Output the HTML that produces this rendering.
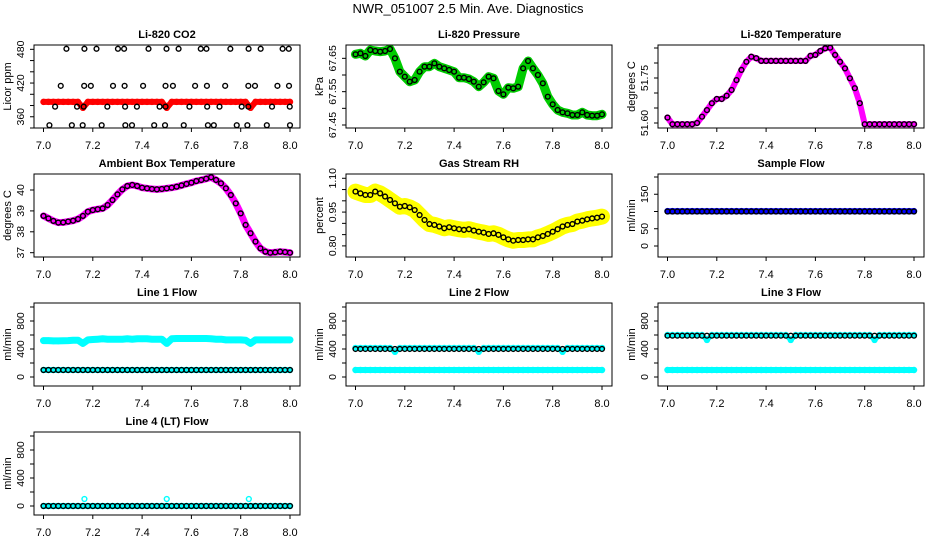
<!DOCTYPE html>
<html><head><meta charset="utf-8"><title>NWR_051007 Diagnostics</title>
<style>
html,body{margin:0;padding:0;background:#fff;}
svg{display:block;font-family:"Liberation Sans",sans-serif;}
</style></head>
<body>
<svg id="chart" width="936" height="540" viewBox="0 0 936 540">
<rect x="0" y="0" width="936" height="540" fill="#fff"/>
<text x="468" y="13" text-anchor="middle" font-size="13">NWR_051007  2.5 Min. Ave. Diagnostics</text>
</svg>
<script>
// ---------- data ----------
const xTicks = [7.0, 7.2, 7.4, 7.6, 7.8, 8.0];
const xTickLabels = ["7.0", "7.2", "7.4", "7.6", "7.8", "8.0"];

const co2BlackT = [7.093,7.166,7.215,7.302,7.327,7.426,7.499,7.548,7.638,7.661,7.758,7.832,7.881,7.970,7.995,
  7.070,7.165,7.192,7.282,7.329,7.404,7.495,7.525,7.615,7.663,7.737,7.831,7.858,7.949,7.996,
  7.047,7.136,7.163,7.259,7.331,7.379,7.471,7.495,7.592,7.664,7.714,7.804,7.831,7.927,7.999,
  7.024,7.115,7.159,7.236,7.332,7.359,7.449,7.493,7.569,7.667,7.691,7.784,7.827,7.906,8.000];
const co2BlackV = [481,481,481,481,481,481,481,481,481,481,481,481,481,481,481,
  415,415,415,415,415,415,415,415,415,415,415,415,415,415,415,
  378,378,378,378,378,378,378,378,378,378,378,378,378,378,378,
  345,345,345,345,345,345,345,345,345,345,345,345,345,345,345];
const co2Red = [386.5,386.5,386.5,386.5,386.5,386.5,386.5,386.5,376,386.5,
  386.5,386.5,386.5,386.5,386.5,386.5,386.5,386.5,386.5,386.5,
  386.5,386.5,386.5,386.5,386.5,376,386.5,386.5,386.5,386.5,
  386.5,386.5,386.5,386.5,386.5,386.5,386.5,386.5,386.5,386.5,
  386.5,386.5,376,386.5,386.5,386.5,386.5,386.5,386.5,386.5,386.5];

const pressure = [67.662,67.665,67.657,67.675,67.672,67.670,67.672,67.678,67.650,67.610,
  67.595,67.580,67.585,67.610,67.625,67.625,67.635,67.625,67.620,67.615,
  67.610,67.592,67.592,67.588,67.580,67.565,67.578,67.595,67.590,67.552,
  67.542,67.562,67.560,67.565,67.620,67.642,67.620,67.600,67.575,67.535,
  67.512,67.495,67.488,67.485,67.480,67.480,67.488,67.480,67.478,67.478,67.482];

const licorTemp = [51.618,51.596,51.596,51.596,51.596,51.596,51.600,51.621,51.643,51.666,
  51.680,51.680,51.691,51.710,51.743,51.777,51.804,51.821,51.816,51.807,
  51.807,51.807,51.807,51.807,51.807,51.807,51.807,51.807,51.807,51.824,
  51.827,51.840,51.849,51.851,51.827,51.804,51.782,51.749,51.716,51.666,
  51.596,51.596,51.596,51.596,51.596,51.596,51.596,51.596,51.596,51.596,51.596];

const ambientTemp = [38.76,38.64,38.52,38.44,38.45,38.49,38.53,38.61,38.76,38.96,
  39.04,39.08,39.12,39.28,39.52,39.79,40.03,40.19,40.24,40.19,
  40.11,40.08,40.05,40.03,40.05,40.08,40.11,40.16,40.22,40.29,
  40.35,40.43,40.48,40.54,40.61,40.48,40.32,40.08,39.76,39.36,
  38.88,38.33,37.93,37.53,37.21,37.05,37.00,37.02,37.05,37.03,37.00];

const gasRH = [1.041,1.033,1.026,1.026,1.041,1.033,1.019,1.004,0.989,0.974,
  0.977,0.971,0.959,0.937,0.915,0.897,0.893,0.886,0.878,0.883,
  0.878,0.874,0.871,0.874,0.868,0.863,0.859,0.853,0.856,0.849,
  0.838,0.829,0.823,0.826,0.826,0.829,0.829,0.838,0.844,0.853,
  0.863,0.874,0.886,0.893,0.897,0.908,0.912,0.918,0.922,0.925,0.930];

const sampleBlue = [101,101,101,101,101,101,101,101,101,101,101,101,101,101,101,101,101,101,101,101,101,101,101,101,101,101,101,101,101,101,101,101,101,101,101,101,101,101,101,101,101,101,101,101,101,101,101,101,101,101,101];
const sampleBlack = [100,100,100,100,100,100,100,100,100,100,100,100,100,100,100,100,100,100,100,100,100,100,100,100,100,100,100,100,100,100,100,100,100,100,100,100,100,100,100,100,100,100,100,100,100,100,100,100,100,100,100];

const line1High = [520,520,515,515,518,520,525,525,480,530,
  535,540,545,540,540,540,540,545,540,545,
  545,545,540,540,540,480,545,550,550,550,
  550,550,550,550,545,540,540,530,530,530,
  530,525,480,530,530,530,530,530,530,530,530];
const line1Low = [100,100,100,100,100,100,100,100,100,100,100,100,100,100,100,100,100,100,100,100,100,100,100,100,100,100,100,100,100,100,100,100,100,100,100,100,100,100,100,100,100,100,100,100,100,100,100,100,100,100,100];
const line1Black = [100,100,100,100,100,100,100,100,100,100,100,100,100,100,100,100,100,100,100,100,100,100,100,100,100,100,100,100,100,100,100,100,100,100,100,100,100,100,100,100,100,100,100,100,100,100,100,100,100,100,100];

const line2High = [415,415,415,415,415,415,415,415,360,415,
  415,415,415,415,415,415,415,415,415,415,
  415,415,415,415,415,360,415,415,415,415,
  415,415,415,415,415,415,415,415,415,415,
  415,415,360,415,415,415,415,415,415,415,415];
const line2Low = [100,100,100,100,100,100,100,100,100,100,100,100,100,100,100,100,100,100,100,100,100,100,100,100,100,100,100,100,100,100,100,100,100,100,100,100,100,100,100,100,100,100,100,100,100,100,100,100,100,100,100];
const line2Black = [400,400,400,400,400,400,400,400,400,400,400,400,400,400,400,400,400,400,400,400,400,400,400,400,400,400,400,400,400,400,400,400,400,400,400,400,400,400,400,400,400,400,400,400,400,400,400,400,400,400,400];

const line3High = [600,600,600,600,600,600,600,600,530,600,
  600,600,600,600,600,600,600,600,600,600,
  600,600,600,600,600,530,600,600,600,600,
  600,600,600,600,600,600,600,600,600,600,
  600,600,530,600,600,600,600,600,600,600,600];
const line3Low = [100,100,100,100,100,100,100,100,100,100,100,100,100,100,100,100,100,100,100,100,100,100,100,100,100,100,100,100,100,100,100,100,100,100,100,100,100,100,100,100,100,100,100,100,100,100,100,100,100,100,100];
const line3Black = [590,590,590,590,590,590,590,590,590,590,590,590,590,590,590,590,590,590,590,590,590,590,590,590,590,590,590,590,590,590,590,590,590,590,590,590,590,590,590,590,590,590,590,590,590,590,590,590,590,590,590];

const line4Cyan = [0,0,0,0,0,0,0,0,0,0,0,0,0,0,0,0,0,0,0,0,0,0,0,0,0,0,0,0,0,0,0,0,0,0,0,0,0,0,0,0,0,0,0,0,0,0,0,0,0,0,0];
const line4SpikeT = [7.166, 7.5, 7.833];
const line4SpikeV = [100, 100, 100];
const line4Black = [0,0,0,0,0,0,0,0,0,0,0,0,0,0,0,0,0,0,0,0,0,0,0,0,0,0,0,0,0,0,0,0,0,0,0,0,0,0,0,0,0,0,0,0,0,0,0,0,0,0,0];

const tGrid = [];
for (let i = 0; i <= 50; i++) tGrid.push(7 + i * 0.02);

// ---------- drawing ----------
const svg = document.getElementById('chart');
const NS = 'http://www.w3.org/2000/svg';
function mk(tag, attrs, parent) {
  const e = document.createElementNS(NS, tag);
  for (const k in attrs) e.setAttribute(k, attrs[k]);
  (parent || svg).appendChild(e);
  return e;
}

function panel(col, row, title, ylab, ymin, ymax, ticks, labels, name) {
  const bx = 34 + col * 312, by = 45 + row * 129, bw = 266, bh = 83;
  const g = mk('g', {});
  
  
  const X = t => bx + 9.5 + (t - 7) * 246.5;
  const Y = v => by + bh - (v - ymin) / (ymax - ymin) * bh;
  const tt = mk('text', {x: bx + bw / 2, y: by - 7, 'text-anchor': 'middle', 'font-size': 11, 'font-weight': 'bold'}, g);
  tt.textContent = title;
  
  
  const yl = mk('text', {x: 0, y: 0, transform: `translate(${bx - 23},${by + bh / 2}) rotate(-90)`, 'text-anchor': 'middle', 'font-size': 11}, g);
  yl.textContent = ylab;
  
  
  ticks.forEach(v => {
    const y = Y(v);
    const tk = mk('line', {x1: bx - 4, x2: bx, y1: y, y2: y, stroke: '#000', 'stroke-width': 1}, g);
    
    
  });
  labels.forEach(l => {
    const y = Y(l[0]);
    const lt = mk('text', {x: 0, y: 0, transform: `translate(${bx - 10},${y}) rotate(-90)`, 'text-anchor': 'middle', 'font-size': 10.5}, g);
    lt.textContent = l[1];
    
    
  });
  xTicks.forEach((t, i) => {
    const x = X(t);
    const tk = mk('line', {x1: x, x2: x, y1: by + bh, y2: by + bh + 4, stroke: '#000', 'stroke-width': 1}, g);
    
    
    const lt = mk('text', {x: x, y: by + bh + 21, 'text-anchor': 'middle', 'font-size': 11}, g);
    lt.textContent = xTickLabels[i];
    
    
  });
  const plot = mk('g', {}, g);
  
  
  const frame = mk('rect', {x: bx, y: by, width: bw, height: bh, fill: 'none', stroke: '#000', 'stroke-width': 1}, g);
  
  
  return {X, Y, plot, name};
}

function band(p, ts, vs, color, w, label) {
  const pts = ts.map((t, i) => p.X(t).toFixed(1) + ',' + p.Y(vs[i]).toFixed(1)).join(' ');
  const pl = mk('polyline', {points: pts, fill: 'none', stroke: color, 'stroke-width': w, 'stroke-linejoin': 'round', 'stroke-linecap': 'round'}, p.plot);
  
  
  ts.forEach((t, i) => {
    const c = mk('circle', {cx: p.X(t), cy: p.Y(vs[i]), r: 2.6, fill: 'none', stroke: color, 'stroke-width': 1.3}, p.plot);
    
    
  });
}
function dots(p, ts, vs, color, label) {
  ts.forEach((t, i) => {
    const c = mk('circle', {cx: p.X(t), cy: p.Y(vs[i]), r: 2.4, fill: 'none', stroke: color, 'stroke-width': 1.4}, p.plot);
    
    
  });
}

const p1 = panel(0, 0, 'Li-820 CO2', 'Licor ppm', 340, 487.7,
  [340,360,380,400,420,440,460,480], [[360,'360'],[420,'420'],[480,'480']], 'co2');
band(p1, tGrid, co2Red, '#ff0000', 6, 'red');
dots(p1, co2BlackT, co2BlackV, '#000', 'black');

const p2 = panel(1, 0, 'Li-820 Pressure', 'kPa', 67.441, 67.69,
  [67.45,67.50,67.55,67.60,67.65], [[67.45,'67.45'],[67.55,'67.55'],[67.65,'67.65']], 'pressure');
band(p2, tGrid, pressure, '#00cc00', 9, 'green');
dots(p2, tGrid, pressure, '#000', 'black');

const p3 = panel(2, 0, 'Li-820 Temperature', 'degrees C', 51.5833, 51.86,
  [51.60,51.65,51.70,51.75,51.80,51.85], [[51.60,'51.60'],[51.75,'51.75']], 'licor-temp');
band(p3, tGrid, licorTemp, '#ff00ff', 6, 'magenta');
dots(p3, tGrid, licorTemp, '#000', 'black');

const p4 = panel(0, 1, 'Ambient Box Temperature', 'degrees C', 36.794, 40.766,
  [37,38,39,40], [[37,'37'],[38,'38'],[39,'39'],[40,'40']], 'ambient-temp');
band(p4, tGrid, ambientTemp, '#ff00ff', 7, 'magenta');
dots(p4, tGrid, ambientTemp, '#000', 'black');

const p5 = panel(1, 1, 'Gas Stream RH', 'percent', 0.7507, 1.119,
  [0.80,0.85,0.90,0.95,1.00,1.05,1.10], [[0.80,'0.80'],[0.95,'0.95'],[1.10,'1.10']], 'gas-rh');
band(p5, tGrid, gasRH, '#ffff00', 16, 'yellow');
dots(p5, tGrid, gasRH, '#000', 'black');

const p6 = panel(2, 1, 'Sample Flow', 'ml/min', -31.9, 208.7,
  [0,50,100,150,200], [[0,'0'],[50,'50'],[150,'150']], 'sample-flow');
band(p6, tGrid, sampleBlue, '#0000ff', 6, 'blue');
dots(p6, tGrid, sampleBlack, '#000', 'black');

const flowTicks = [0,200,400,600,800,1000];
const flowLabels = [[0,'0'],[400,'400'],[800,'800']];
const p7 = panel(0, 2, 'Line 1 Flow', 'ml/min', -128.6, 1057, flowTicks, flowLabels, 'line1-flow');
band(p7, tGrid, line1High, '#00ffff', 7, 'cyan-high');
band(p7, tGrid, line1Low, '#00ffff', 6, 'cyan-low');
dots(p7, tGrid, line1Black, '#000', 'black');
const p8 = panel(1, 2, 'Line 2 Flow', 'ml/min', -128.6, 1057, flowTicks, flowLabels, 'line2-flow');
band(p8, tGrid, line2Low, '#00ffff', 6, 'cyan-low');
band(p8, tGrid, line2High, '#00ffff', 5, 'cyan-high');
dots(p8, tGrid, line2Black, '#000', 'black');
const p9 = panel(2, 2, 'Line 3 Flow', 'ml/min', -128.6, 1057, flowTicks, flowLabels, 'line3-flow');
band(p9, tGrid, line3Low, '#00ffff', 6, 'cyan-low');
band(p9, tGrid, line3High, '#00ffff', 5, 'cyan-high');
dots(p9, tGrid, line3Black, '#000', 'black');
const p10 = panel(0, 3, 'Line 4 (LT) Flow', 'ml/min', -128.6, 1057, flowTicks, flowLabels, 'line4-flow');
band(p10, tGrid, line4Cyan, '#00ffff', 6, 'cyan');
dots(p10, line4SpikeT, line4SpikeV, '#00ffff', 'cyan-spike');
dots(p10, tGrid, line4Black, '#000', 'black');
</script>
</body></html>
